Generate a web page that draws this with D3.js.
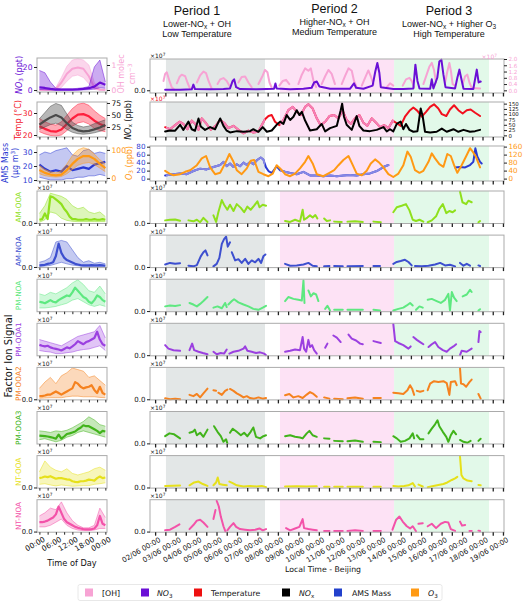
<!DOCTYPE html>
<html><head><meta charset="utf-8">
<script src="https://cdn.jsdelivr.net/npm/d3@7/dist/d3.min.js"></script>
<style>html,body{margin:0;padding:0;background:#fff;}svg{display:block}</style>
</head><body>
<svg id="chart" width="529" height="602"></svg>
<script>
// ================= DATA =================
const dayTickLabels = ["02/06 00:00","03/06 00:00","04/06 00:00","05/06 00:00","06/06 00:00","07/06 00:00","08/06 00:00","09/06 00:00","10/06 00:00","11/06 00:00","12/06 00:00","13/06 00:00","14/06 00:00","15/06 00:00","16/06 00:00","17/06 00:00","18/06 00:00","19/06 00:00"];
const hourTickLabels = ["00:00","06:00","12:00","18:00","00:00"];
const hours2 = [0,2,4,6,8,10,12,14,16,18,20,22,24];
const hours1 = [0,1,2,3,4,5,6,7,8,9,10,11,12,13,14,15,16,17,18,19,20,21,22,23,24];
// periods in days since 02/06 00:00
const periodStart = [0.53, 6.10, 11.68];
const periodEnd   = [5.37, 11.68, 16.32];
const periodTitle = ["Period 1","Period 2","Period 3"];
const periodLine1 = [["Lower-NO","x"," + OH"],["Higher-NO","x"," + OH"],["Lower-NO","x"," + Higher O","3"]];
const periodLine2 = ["Low Temperature","Medium Temperature","High Temperature"];

// ---- time series (t in days, value) ----
const no3_ts = [[0.49,2],[1.22,2],[1.79,3],[1.87,18],[1.95,4],[2.69,3],[3.34,4],[3.66,6],[3.79,30],[3.86,35],[3.96,10],[4.15,4],[4.97,3],[5.46,4],[5.81,5],[5.88,22],[5.94,6],[6.60,3],[7.25,5],[7.65,8],[7.77,25],[7.90,28],[8.03,12],[8.55,5],[9.53,5],[9.72,22],[9.82,8],[10.18,5],[10.63,15],[10.76,60],[10.86,87],[10.96,55],[11.03,10],[11.64,4],[12.13,4],[12.62,6],[12.72,82],[12.82,30],[12.92,6],[13.44,5],[13.52,35],[13.60,6],[13.79,40],[13.89,92],[13.99,98],[14.09,50],[14.19,10],[14.66,6],[14.77,40],[14.87,66],[14.97,35],[15.07,5],[15.55,4],[15.72,66],[15.81,25],[15.91,28]];
const oh_ts = [
 [[0.41,0.6],[0.49,1.05],[0.57,1.15],[0.70,0.6],[0.81,0.2],[0.93,0.05]],
 [[1.06,0.45],[1.19,0.85],[1.30,1.0],[1.47,0.9],[1.58,0.5],[1.71,0.1]],
 [[2.04,0.5],[2.20,0.95],[2.36,1.2],[2.49,1.1],[2.61,0.6],[2.77,0.1]],
 [[3.05,0.4],[3.18,0.7],[3.34,0.78],[3.50,0.6],[3.63,0.3]],
 [[4.07,0.5],[4.23,0.85],[4.40,0.88],[4.56,0.5],[4.72,0.2]],
 [[5.05,0.4],[5.26,0.95],[5.37,1.3],[5.49,1.15],[5.59,0.5],[5.70,0.15]],
 [[6.07,0.3],[6.24,0.6],[6.40,0.67],[6.56,0.4]],
 [[7.00,0.4],[7.17,1.0],[7.33,1.4],[7.49,1.25],[7.61,1.4],[7.74,0.6],[7.87,0.2]],
 [[8.14,0.4],[8.31,0.9],[8.47,1.3],[8.63,1.05],[8.79,0.4]],
 [[9.12,0.4],[9.28,0.9],[9.45,1.4],[9.61,1.25],[9.72,0.6],[9.85,0.2]],
 [[10.10,0.3],[10.26,0.8],[10.42,1.27],[10.54,0.9],[10.67,0.4]],
 [[11.32,0.2],[11.48,0.45],[11.64,0.3]],
 [[12.10,0.3],[12.26,0.7],[12.43,0.8],[12.54,0.6],[12.66,0.2]],
 [[13.11,0.4],[13.27,1.0],[13.40,1.5],[13.52,1.75],[13.63,1.3],[13.73,0.5]],
 [[14.17,0.5],[14.28,1.2],[14.38,1.75],[14.46,1.2],[14.54,0.4],[14.66,0.3]],
 [[15.03,0.4],[15.15,0.9],[15.26,1.0],[15.36,0.5],[15.47,0.15],[15.88,0.12]]
];
const temp_ts = [[0.49,21.5],[0.73,20],[0.98,23],[1.19,25.5],[1.38,24],[1.58,20],[1.79,26.3],[1.95,24],[2.12,19.6],[2.28,28],[2.49,24.4],[2.72,19.6],[2.98,23],[3.18,26.8],[3.37,24.8],[3.58,20.8],[3.83,22.5],[4.07,19.6],[4.32,17],[4.56,19],[4.80,17.6],[5.05,18.4],[5.21,23],[5.37,27.3],[5.54,29.7],[5.70,30.4],[5.86,25.5],[6.07,23],[6.27,26.8],[6.51,34],[6.73,36.4],[6.92,32.8],[7.12,30.4],[7.33,36.4],[7.49,38.3],[7.70,35.2],[7.90,28],[8.09,23],[8.31,25.5],[8.52,29.7],[8.75,30.4],[8.96,28],[9.17,33.5],[9.36,26.8],[9.56,24],[9.77,28],[9.98,30.4],[10.18,24.8],[10.37,22.5],[10.59,28],[10.80,24.8],[10.99,21.5],[11.19,23],[11.40,20.8],[11.61,26.3],[11.81,24.4],[12.00,22.5],[12.21,29.2],[12.43,33.5],[12.62,35.9],[12.82,33.5],[13.03,29.2],[13.24,32.8],[13.44,36.4],[13.63,38.3],[13.84,35.2],[14.01,31.1],[14.23,29.7],[14.41,34.5],[14.61,37.6],[14.82,34],[15.03,31.6],[15.23,34],[15.42,34.5],[15.64,32.1],[15.88,29.7]];
const nox_ts = [[0.49,18],[0.73,23],[0.98,22],[1.22,50],[1.38,26],[1.63,65],[1.79,29],[1.95,22],[2.12,80],[2.23,42],[2.44,26],[2.69,39],[2.93,29],[3.18,80],[3.34,45],[3.50,22],[3.66,14],[3.99,20],[4.32,17],[4.64,20],[4.80,29],[5.05,17],[5.26,39],[5.46,17],[5.70,23],[5.94,50],[6.11,65],[6.27,54],[6.43,96],[6.60,73],[6.76,88],[6.92,119],[7.05,96],[7.17,111],[7.33,70],[7.57,23],[7.90,29],[8.14,54],[8.31,19],[8.55,34],[8.88,45],[9.07,119],[9.14,150],[9.23,88],[9.36,50],[9.61,26],[9.85,91],[9.98,45],[10.18,23],[10.50,20],[10.83,26],[11.16,39],[11.32,19],[11.48,29],[11.64,19],[11.81,54],[12.00,65],[12.13,29],[12.26,54],[12.43,26],[12.62,17],[12.82,20],[12.98,127],[13.08,88],[13.19,17],[13.44,14],[13.76,17],[14.01,32],[14.25,17],[14.58,29],[14.82,17],[15.07,26],[15.39,17],[15.64,20],[15.88,26]];
const ams_ts = [
 [[0.49,8],[0.90,11],[1.22,13],[1.55,11],[1.87,19],[2.20,25],[2.52,23],[2.85,29],[3.18,34],[3.34,42],[3.50,31],[3.66,38],[3.83,29],[3.99,36],[4.15,31],[4.32,40],[4.48,34],[4.64,42],[4.80,36],[4.97,46],[5.16,53],[5.29,48],[5.42,28],[5.54,19],[5.70,14],[5.94,31],[6.11,21],[6.35,17],[6.60,14],[6.92,11],[7.25,17],[7.57,8],[7.90,8],[8.22,6],[8.55,8],[8.88,6],[9.20,8],[9.53,9],[9.85,8],[10.18,11],[10.50,13],[10.83,19],[11.16,29],[11.40,34]],
 [[14.66,28],[14.90,29],[15.15,28],[15.39,34],[15.55,42],[15.65,76],[15.75,55],[15.88,42],[15.96,38]]
];
const o3_ts = [[0.49,39],[0.70,25],[0.90,17],[1.22,22],[1.47,34],[1.71,42],[2.04,67],[2.28,101],[2.49,113],[2.69,56],[2.93,22],[3.18,29],[3.42,76],[3.63,123],[3.83,84],[3.99,42],[4.23,22],[4.48,51],[4.67,89],[4.84,93],[5.05,34],[5.29,22],[5.54,12],[5.75,25],[5.94,67],[6.11,51],[6.35,22],[6.60,12],[6.84,25],[7.08,51],[7.33,84],[7.49,113],[7.70,76],[7.90,22],[8.22,12],[8.52,29],[8.75,42],[8.96,67],[9.20,93],[9.45,113],[9.66,67],[9.85,25],[10.10,17],[10.34,39],[10.54,76],[10.75,96],[10.96,79],[11.16,56],[11.40,22],[11.64,8],[11.89,25],[12.13,67],[12.33,135],[12.49,109],[12.70,42],[12.92,29],[13.11,39],[13.36,84],[13.52,126],[13.68,101],[13.89,72],[14.09,59],[14.28,123],[14.45,113],[14.61,67],[14.77,29],[14.98,67],[15.23,118],[15.39,152],[15.52,135],[15.68,109],[15.88,56]];

// factor time series (x10^7, segments)
const amOOA_ts = [
 [[0.49,0.08],[0.73,0.10],[0.98,0.11],[1.22,0.07]],
 [[1.63,0.08],[1.87,0.05],[2.04,0.10],[2.20,0.02],[2.36,0.16],[2.56,0.03]],
 [[2.85,0.24],[2.98,0.03],[3.09,0.34],[3.26,0.73],[3.37,0.58],[3.53,0.42],[3.66,0.58],[3.83,0.38],[3.99,0.60],[4.19,0.48],[4.35,0.34],[4.51,0.52],[4.67,0.42],[4.84,0.55],[5.00,0.69],[5.10,0.50],[5.26,0.58],[5.42,0.55]],
 [[6.35,0.06],[6.60,0.03],[6.84,0.10],[7.08,0.04],[7.21,0.42],[7.28,0.10],[7.44,0.17],[7.57,0.24],[7.70,0.17],[7.83,0.25],[7.93,0.14]],
 [[8.26,0.14],[8.39,0.06],[8.55,0.08]],
 [[8.75,0.04],[9.12,0.03]],
 [[9.40,0.04],[9.77,0.05],[10.15,0.03]],
 [[10.67,0.04],[11.03,0.02]],
 [[11.64,0.34],[11.81,0.50],[12.05,0.55],[12.26,0.60],[12.43,0.40],[12.59,0.10],[12.75,0.06],[12.92,0.10],[13.11,0.04]],
 [[13.32,0.02],[13.52,0.08],[13.73,0.21],[13.89,0.45],[14.06,0.60],[14.23,0.31],[14.38,0.38],[14.54,0.34],[14.66,0.40]],
 [[14.90,1.00],[15.02,0.66],[15.20,0.60],[15.31,0.71],[15.47,0.66]],
 [[15.80,0.02],[15.88,0.06]]
];
const amNOA_ts = [
 [[0.49,0.08],[0.73,0.13],[0.98,0.10],[1.22,0.12]],
 [[1.63,0.04],[1.87,0.02],[2.04,0.06],[2.23,0.34],[2.36,0.47],[2.46,0.53],[2.56,0.37]],
 [[2.85,0.02],[3.01,0.10],[3.14,0.29],[3.26,0.74],[3.37,0.89],[3.47,0.97],[3.55,0.65],[3.66,0.79]],
 [[3.75,0.47],[3.91,0.21],[4.07,0.25],[4.23,0.13],[4.40,0.26],[4.56,0.10],[4.72,0.21],[4.89,0.15],[5.05,0.26],[5.18,0.13],[5.29,0.34],[5.39,0.40]],
 [[6.35,0.10],[6.60,0.04],[6.92,0.05],[7.25,0.08],[7.49,0.13],[7.70,0.04],[7.90,0.02]],
 [[8.26,0.02],[8.52,0.03]],
 [[8.75,0.03],[9.17,0.02]],
 [[9.40,0.02],[10.15,0.03]],
 [[10.67,0.03],[10.99,0.03]],
 [[11.64,0.10],[11.81,0.16],[12.00,0.19],[12.21,0.23],[12.38,0.16],[12.54,0.05]],
 [[12.70,0.03],[13.03,0.02],[13.36,0.04],[13.68,0.08],[13.93,0.13],[14.17,0.05],[14.41,0.07],[14.66,0.02]],
 [[14.90,0.13],[15.07,0.04],[15.23,0.10],[15.39,0.04]],
 [[15.80,0.05],[15.88,0.03]]
];
const pmNOA_ts = [
 [[0.49,0.15],[0.73,0.18],[0.98,0.16],[1.22,0.19]],
 [[1.68,0.26],[1.87,0.21],[2.04,0.15],[2.20,0.23],[2.36,0.32],[2.56,0.45]],
 [[2.85,0.11],[3.05,0.15],[3.26,0.09],[3.42,0.26],[3.50,0.13]],
 [[3.58,0.21],[3.75,0.32],[3.86,0.38],[4.07,0.28],[4.32,0.21],[4.56,0.15],[4.80,0.07],[5.05,0.04],[5.26,0.11],[5.42,0.17]],
 [[6.35,0.32],[6.51,0.45],[6.76,0.39],[7.00,0.36],[7.17,0.34],[7.25,0.98],[7.30,0.26]],
 [[7.49,0.66],[7.61,0.47],[7.74,0.57],[7.87,0.53],[7.98,0.32]],
 [[8.31,0.07],[8.42,0.17],[8.55,0.02]],
 [[8.75,0.04],[9.17,0.04]],
 [[9.40,0.04],[10.15,0.04]],
 [[10.67,0.04],[10.99,0.02]],
 [[11.64,0.02],[11.89,0.07],[12.13,0.11],[12.30,0.18],[12.46,0.26],[12.59,0.18]],
 [[12.75,0.04],[12.92,0.15],[13.08,0.11]],
 [[13.32,0.36],[13.52,0.39],[13.76,0.32],[13.96,0.26],[14.17,0.36],[14.33,0.55],[14.41,0.02],[14.50,0.61],[14.61,0.43],[14.74,0.32]],
 [[15.03,0.47],[15.23,0.53],[15.39,0.68],[15.47,0.61]],
 [[15.80,0.02],[15.88,0.06]]
];
const pmOOA1_ts = [
 [[0.49,0.32],[0.65,0.21],[0.90,0.16],[1.22,0.14]],
 [[1.68,0.16],[1.81,0.37],[1.91,0.16],[2.12,0.11],[2.33,0.07],[2.56,0.03]],
 [[2.85,0.11],[3.01,0.03],[3.21,0.07],[3.37,0.05],[3.50,0.18]],
 [[3.63,0.05],[3.83,0.11],[4.07,0.14],[4.32,0.21],[4.40,0.28],[4.51,0.14],[4.72,0.11],[4.93,0.07],[5.13,0.09],[5.33,0.05],[5.42,0.00]],
 [[6.35,0.11],[6.60,0.14],[6.84,0.18],[7.08,0.16],[7.21,0.58],[7.28,0.21],[7.38,0.11],[7.49,0.49],[7.57,0.26],[7.67,0.32],[7.77,0.16],[7.90,0.05]],
 [[8.31,0.24],[8.42,0.37]],
 [[8.71,0.63],[8.88,0.56],[9.07,0.42]],
 [[9.45,0.66],[9.61,0.53],[9.82,0.47],[10.02,0.37],[10.15,0.35]],
 [[10.67,0.45],[11.03,0.39]],
 [[11.64,1.00],[11.73,0.45],[11.89,0.39],[12.13,0.32],[12.38,0.21],[12.49,0.28]],
 [[12.62,0.58],[12.79,0.49],[12.95,0.42],[13.11,0.35]],
 [[13.36,0.26],[13.52,0.35],[13.68,0.42],[13.84,0.26],[14.06,0.16],[14.25,0.11],[14.41,0.21],[14.58,0.28],[14.71,0.35]],
 [[14.90,0.00],[14.98,0.14],[15.23,0.11],[15.47,0.21]],
 [[15.80,0.42],[15.85,0.77],[15.91,0.74]]
];
const pmOOA2_ts = [
 [[0.49,0.03],[0.73,0.00],[0.98,0.02],[1.22,0.00]],
 [[1.68,0.14],[1.87,0.10],[2.04,0.17],[2.20,0.06],[2.36,0.19],[2.56,0.34]],
 [[2.85,0.29],[2.98,0.27]],
 [[3.09,0.21],[3.26,0.14],[3.42,0.27],[3.53,0.31]],
 [[3.66,0.33],[3.83,0.27],[3.99,0.19],[4.15,0.13],[4.32,0.06],[4.48,0.10],[4.64,0.04],[4.84,0.02],[5.05,0.06],[5.26,0.02],[5.42,0.04]],
 [[6.35,0.13],[6.56,0.17],[6.76,0.06],[7.00,0.10],[7.21,0.04],[7.41,0.15],[7.57,0.23],[7.74,0.17],[7.90,0.08]],
 [[8.26,0.06],[8.52,0.02]],
 [[8.75,0.02],[9.17,0.00]],
 [[9.40,0.03],[9.77,0.06],[10.15,0.02]],
 [[10.67,0.04],[11.03,0.04]],
 [[11.64,0.21],[11.89,0.19],[12.13,0.17],[12.33,0.29],[12.46,0.45],[12.56,0.34],[12.66,0.14]],
 [[12.79,0.27],[12.95,0.24],[13.11,0.27]],
 [[13.32,0.29],[13.44,0.50],[13.63,0.58],[13.84,0.55],[14.09,0.58],[14.25,0.52],[14.38,0.14],[14.45,0.55],[14.66,0.58],[14.74,0.45]],
 [[14.90,1.00],[14.95,0.50],[15.07,0.48],[15.20,0.40],[15.36,0.55],[15.47,0.63]],
 [[15.80,0.17],[15.91,0.02]]
];
const pmOOA3_ts = [
 [[0.49,0.23],[0.70,0.32],[0.93,0.29],[1.22,0.16]],
 [[1.68,0.34],[1.84,0.37],[1.94,0.44],[2.04,0.26],[2.20,0.34],[2.36,0.21],[2.56,0.44]],
 [[2.88,0.55],[3.05,0.37],[3.21,0.23],[3.34,0.05],[3.47,0.13],[3.53,0.00]],
 [[3.66,0.34],[3.79,0.47],[3.99,0.37],[4.19,0.26],[4.35,0.34],[4.51,0.23],[4.67,0.37],[4.80,0.51],[4.93,0.21],[5.13,0.16],[5.29,0.23],[5.42,0.26]],
 [[6.35,0.23],[6.60,0.26],[6.84,0.21],[7.08,0.19],[7.21,0.16],[7.41,0.32],[7.54,0.40],[7.70,0.26],[7.90,0.21]],
 [[8.26,0.16],[8.52,0.15]],
 [[8.75,0.08],[9.17,0.07]],
 [[9.40,0.07],[9.77,0.09],[10.15,0.05]],
 [[10.67,0.05],[11.03,0.04]],
 [[11.64,0.23],[11.81,0.16],[12.00,0.05],[12.21,0.08],[12.43,0.16],[12.59,0.32],[12.66,0.16]],
 [[12.79,0.26],[12.95,0.13],[13.11,0.13]],
 [[13.36,0.32],[13.52,0.47],[13.68,0.61],[13.80,0.74],[13.89,0.55],[14.06,0.37],[14.23,0.21],[14.33,0.05],[14.45,0.26],[14.58,0.40],[14.71,0.29]],
 [[14.90,0.11],[15.07,0.05],[15.26,0.02],[15.42,0.08]],
 [[15.80,0.08],[15.91,0.15]]
];
const ntOOA_ts = [
 [[0.49,0.05],[1.22,0.06]],
 [[1.68,0.07],[1.91,0.16],[2.12,0.19],[2.33,0.11],[2.56,0.05]],
 [[2.85,0.07],[2.98,0.16],[3.06,0.32],[3.14,0.11],[3.31,0.09],[3.50,0.07]],
 [[3.63,0.19],[3.79,0.14],[3.99,0.07],[4.32,0.03],[4.64,0.05],[4.97,0.03],[5.21,0.05],[5.42,0.01]],
 [[6.35,0.03],[6.92,0.04],[7.41,0.03],[7.90,0.04]],
 [[8.26,0.02],[8.52,0.02]],
 [[8.75,0.02],[9.17,0.02]],
 [[9.40,0.02],[10.15,0.02]],
 [[10.67,0.02],[11.03,0.02]],
 [[11.64,0.05],[11.89,0.03],[12.17,0.05],[12.38,0.07],[12.59,0.14],[12.70,0.03]],
 [[12.87,0.09],[13.08,0.03]],
 [[13.32,0.01],[13.60,0.05],[13.84,0.08],[14.09,0.11],[14.28,0.16],[14.50,0.24],[14.66,0.29],[14.77,0.34]],
 [[14.90,0.99],[14.97,0.40],[15.07,0.29],[15.26,0.22],[15.47,0.20]],
 [[15.80,0.08],[15.91,0.07]]
];
const ntNOA_ts = [
 [[0.49,0.04],[0.73,0.06],[0.98,0.15],[1.19,0.23]],
 [[1.68,0.08],[1.87,0.21],[2.04,0.35],[2.20,0.38],[2.36,0.29],[2.56,0.15]],
 [[2.85,0.40],[2.95,0.69]],
 [[3.01,0.98],[3.11,0.81],[3.21,0.48],[3.34,0.17],[3.44,0.00]],
 [[3.53,0.04],[3.66,0.15],[3.83,0.27],[3.96,0.15],[4.15,0.08],[4.40,0.06],[4.64,0.04],[4.89,0.06],[5.10,0.10],[5.26,0.04],[5.42,0.08]],
 [[6.40,0.11],[6.60,0.04],[6.84,0.10],[7.05,0.15],[7.21,0.40],[7.28,0.11],[7.49,0.08],[7.70,0.06],[7.90,0.04]],
 [[8.26,0.02],[8.52,0.02]],
 [[8.75,0.02],[9.17,0.02]],
 [[9.40,0.02],[9.77,0.04],[10.15,0.02]],
 [[10.67,0.02],[11.03,0.02]],
 [[11.60,0.06],[11.78,0.38],[11.94,0.48],[12.10,0.32],[12.30,0.17],[12.46,0.10],[12.59,0.17],[12.75,0.01]],
 [[12.87,0.25],[13.08,0.27]],
 [[13.32,0.17],[13.52,0.25],[13.73,0.11],[13.96,0.25],[14.17,0.31],[14.33,0.29],[14.45,0.08],[14.66,0.02]],
 [[14.90,0.32],[15.00,0.19],[15.15,0.21]],
 [[15.36,0.02],[15.47,0.02]],
 [[15.80,0.03],[15.88,0.02]]
];

// ---- diurnal profiles (left column) ----
const no3_med = [2.3,1.8,1.0,0.4,0.3,0.3,0.4,0.6,1.0,1.6,3.0,6.5,4.5];
const no3_hi  = [17,15,7,1.5,1,1,1,1.5,2,3,20,26,7];
const no3_lo  = [0.5,0.3,0.1,0,0,0,0,0,0.1,0.3,0.8,2,1.5];
const oh_med  = [0,0,0,0.04,0.3,0.65,0.85,0.9,0.85,0.55,0.1,0.01,0];
const oh_hi   = [0.02,0.02,0.02,0.1,0.5,0.95,1.2,1.25,1.2,1.0,0.3,0.05,0.02];
const oh_lo   = [0,0,0,0,0.1,0.35,0.55,0.6,0.5,0.25,0.02,0,0];
const temp_med = [24,22.8,21.8,21.5,22.5,25,27.5,29.3,29.5,28.5,26.5,25,24];
const temp_hi  = [27.5,26,25,24.5,26,29,32,34,34.5,33.5,31,29,27.5];
const temp_lo  = [21.5,20.5,19.8,19.5,20,22,24,25.5,26,25,23,22,21.5];
const nox_med = [30,38,45,50,45,33,23,18,16,17,20,24,29];
const nox_hi  = [42,55,68,74,70,52,35,28,25,27,32,36,40];
const nox_lo  = [20,25,30,33,28,20,14,11,10,11,13,16,20];
const ams_med = [21,18,16,17,16,20,17,18,19,18,21,22,23];
const ams_hi  = [28,30,29,31,32,33,28,27,31,32,29,30,29];
const ams_lo  = [12,11,10,10,10,11,11,12,12,13,13,14,13];
const o3_med = [28,18,12,9,12,28,50,68,78,78,68,50,35];
const o3_hi  = [45,30,22,18,25,50,80,100,108,102,85,65,50];
const o3_lo  = [15,8,5,3,5,15,30,45,52,55,48,35,22];

const amOOA_med = [0.10,0.12,0.30,0.12,0.85,0.82,0.75,0.68,0.60,0.45,0.35,0.20,0.12,0.12,0.10,0.10,0.10,0.12,0.10,0.10,0.12,0.10,0.10,0.12,0.10];
const amOOA_hi  = [0.30,0.55,0.95,0.90,0.85,0.75,0.55,0.45,0.50,0.35,0.30,0.35,0.20];
const amOOA_lo  = [0.02,0.10,0.35,0.30,0.15,0.08,0.05,0.04,0.04,0.04,0.04,0.04,0.04];
const amNOA_med = [0.05,0.06,0.07,0.10,0.12,0.15,0.35,0.75,0.45,0.30,0.22,0.18,0.14,0.10,0.08,0.06,0.05,0.05,0.05,0.06,0.05,0.05,0.06,0.05,0.04];
const amNOA_hi  = [0.15,0.20,0.30,0.80,0.85,0.80,0.55,0.30,0.15,0.20,0.12,0.15,0.10];
const amNOA_lo  = [0.02,0.03,0.05,0.10,0.15,0.10,0.06,0.04,0.02,0.02,0.02,0.02,0.02];
const pmNOA_med = [0.30,0.28,0.25,0.30,0.35,0.30,0.28,0.35,0.40,0.45,0.50,0.48,0.60,0.75,0.65,0.55,0.45,0.40,0.30,0.25,0.35,0.50,0.45,0.35,0.30];
const pmNOA_hi  = [0.55,0.50,0.60,0.55,0.65,0.75,0.90,1.00,0.85,0.65,0.60,0.80,0.55];
const pmNOA_lo  = [0.10,0.10,0.12,0.15,0.20,0.25,0.35,0.40,0.30,0.20,0.15,0.20,0.15];
const pmOOA1_med = [0.33,0.30,0.28,0.30,0.25,0.22,0.20,0.18,0.15,0.20,0.25,0.22,0.28,0.35,0.45,0.40,0.35,0.42,0.45,0.50,0.55,0.75,0.50,0.35,0.30];
const pmOOA1_hi  = [0.50,0.45,0.40,0.35,0.30,0.40,0.50,0.60,0.65,0.70,0.75,0.95,0.55];
const pmOOA1_lo  = [0.15,0.12,0.10,0.05,0.05,0.08,0.10,0.15,0.18,0.20,0.25,0.30,0.15];
const pmOOA2_med = [0.10,0.10,0.12,0.15,0.15,0.20,0.25,0.20,0.15,0.20,0.25,0.30,0.35,0.55,0.50,0.40,0.35,0.38,0.40,0.45,0.30,0.20,0.40,0.20,0.15];
const pmOOA2_hi  = [0.35,0.55,0.70,0.50,0.75,0.85,1.00,0.95,0.90,0.70,0.75,0.60,0.45];
const pmOOA2_lo  = [0.03,0.04,0.05,0.05,0.05,0.08,0.10,0.10,0.08,0.08,0.08,0.06,0.05];
const pmOOA3_med = [0.25,0.24,0.23,0.22,0.20,0.18,0.15,0.28,0.15,0.22,0.30,0.32,0.35,0.38,0.45,0.50,0.58,0.55,0.55,0.50,0.45,0.40,0.33,0.40,0.38];
const pmOOA3_hi  = [0.40,0.38,0.35,0.40,0.38,0.42,0.50,0.60,0.70,0.85,0.75,0.60,0.55];
const pmOOA3_lo  = [0.12,0.15,0.10,0.05,0.10,0.20,0.25,0.35,0.40,0.35,0.30,0.25,0.20];
const ntOOA_med = [0.30,0.32,0.35,0.33,0.36,0.32,0.28,0.30,0.30,0.28,0.26,0.25,0.20,0.18,0.17,0.20,0.20,0.22,0.25,0.24,0.22,0.30,0.35,0.30,0.32];
const ntOOA_hi  = [0.50,0.85,0.65,0.55,0.50,0.60,0.45,0.40,0.45,0.50,0.60,0.65,0.55];
const ntOOA_lo  = [0.10,0.12,0.08,0.05,0.08,0.06,0.04,0.05,0.06,0.06,0.10,0.12,0.15];
const ntNOA_med = [0.30,0.30,0.32,0.35,0.40,0.45,0.55,0.80,0.60,0.40,0.30,0.25,0.20,0.15,0.12,0.10,0.08,0.07,0.07,0.08,0.10,0.20,0.50,0.25,0.20];
const ntNOA_hi  = [0.50,0.60,0.75,0.70,0.95,0.60,0.35,0.20,0.12,0.12,0.20,0.75,0.45];
const ntNOA_lo  = [0.15,0.15,0.20,0.30,0.40,0.20,0.10,0.05,0.03,0.03,0.05,0.10,0.10];

const factorNames = ["AM-OOA","AM-NOA","PM-NOA","PM-OOA1","PM-OOA2","PM-OOA3","NT-OOA","NT-NOA"];
const factorTS  = [amOOA_ts, amNOA_ts, pmNOA_ts, pmOOA1_ts, pmOOA2_ts, pmOOA3_ts, ntOOA_ts, ntNOA_ts];
const factorMed = [amOOA_med, amNOA_med, pmNOA_med, pmOOA1_med, pmOOA2_med, pmOOA3_med, ntOOA_med, ntNOA_med];
const factorHi  = [amOOA_hi, amNOA_hi, pmNOA_hi, pmOOA1_hi, pmOOA2_hi, pmOOA3_hi, ntOOA_hi, ntNOA_hi];
const factorLo  = [amOOA_lo, amNOA_lo, pmNOA_lo, pmOOA1_lo, pmOOA2_lo, pmOOA3_lo, ntOOA_lo, ntNOA_lo];
const showZeroLeft = [true,true,false,false,true,false,true,true];
const legendLabels = [[["[OH]",""]],[["NO","i"],["3","sub"]],[["Temperature",""]],[["NO","i"],["x","sub"]],[["AMS Mass",""]],[["O","i"],["3","sub"]]];

// ================= STYLE =================
const C = {oh:"#f7a3d4", no3:"#6a0fd6", temp:"#f2101e", tempP:"#f57fb8", nox:"#000000", ams:"#2a3ad2", amsP:"#8687e4", o3:"#ff9914", frame:"#ababab"};
const factorColors = ["#8fe01c","#3d4fcf","#5ee880","#9b40e0","#f5821f","#41b31b","#e6e01a","#f352a9"];
const periodColors = ["#e3e7e7","#fde2f5","#e2f9e9"];
const legendColors = [C.oh, C.no3, "#ee1010", "#000", "#2240cc", "#ff9a14"];
const FS = "DejaVu Sans, sans-serif";
const FT = "Liberation Sans, Arial, sans-serif";

// ================= DRAW =================
const svg = d3.select("#chart");
svg.append("rect").attr("width",529).attr("height",602).attr("fill","#fff");

const xR = d3.scaleLinear().domain([-0.25, 17.05]).range([150, 504]);
const xL = d3.scaleLinear().domain([-0.87, 24.6]).range([37, 107]);
const dayTicks = d3.range(0, 17.01, 0.5);
const hourTicks = d3.range(0, 24.01, 3);

function addRich(t, parts){
  parts.forEach(p=>{
    const s = t.append("tspan").text(p[0]);
    if(p[1]==="sub"){ s.attr("baseline-shift","-28%").attr("font-size","72%"); }
    if(p[1]==="sup"){ s.attr("baseline-shift","40%").attr("font-size","72%"); }
    if(p[1]==="i"){ s.attr("font-style","italic"); }
  });
  return t;
}
function vlabel(x,y,parts,color,fs){
  const t = svg.append("text").attr("transform",`translate(${x},${y}) rotate(-90)`)
    .attr("text-anchor","middle").attr("dominant-baseline","central")
    .attr("fill",color).attr("font-size",fs).attr("font-family",FS);
  return addRich(t, parts);
}
function sci(x,y,color,anchor){
  const t = svg.append("text").attr("x",x).attr("y",y).attr("fill",color)
    .attr("font-size",6).attr("font-family",FS).attr("text-anchor",anchor||"start");
  addRich(t, [["×10",""],["7","sup"]]);
}
function styleAxis(g, color, fs){
  g.attr("font-size",fs).attr("font-family",FS);
  g.select(".domain").remove();
  g.selectAll(".tick line").attr("stroke","#222").attr("stroke-width",1);
  g.selectAll(".tick text").attr("fill",color);
}
function frame(x0,x1,y0,y1){
  svg.append("rect").attr("x",x0).attr("y",y0).attr("width",x1-x0).attr("height",y1-y0)
    .attr("fill","none").attr("stroke",C.frame).attr("stroke-width",1);
}
function shading(y0,y1){
  const g = svg.append("g");
  periodStart.forEach((s,i)=>{
    g.append("rect").attr("x",xR(s)).attr("y",y0).attr("width",xR(periodEnd[i])-xR(s)).attr("height",y1-y0).attr("fill",periodColors[i]);
  });
}
function drawSegs(segs, y, color, w, clip){
  const line = d3.line().x(d=>xR(d[0])).y(d=>y(d[1]));
  const g = svg.append("g");
  if(clip) g.attr("clip-path","url(#"+clip+")");
  segs.forEach(s=>{
    g.append("path").attr("d",line(s)).attr("fill","none").attr("stroke",color)
      .attr("stroke-width",w).attr("stroke-linejoin","round").attr("stroke-linecap","round");
  });
}
function bottomTicks(y1, labels){
  const ax = d3.axisBottom(xR).tickValues(dayTicks).tickSize(3.5).tickPadding(2)
    .tickFormat(d => (labels && Math.abs(d-Math.round(d))<1e-6) ? dayTickLabels[Math.round(d)] : "");
  const g = svg.append("g").attr("transform",`translate(0,${y1})`).call(ax);
  styleAxis(g,"#111",7.1);
  g.selectAll(".tick line").attr("stroke-width",1.3);
  if(labels){
    g.selectAll(".tick text").attr("text-anchor","end").attr("x",0).attr("y",0).attr("dy","0.72em")
      .attr("transform","translate(3,4.5) rotate(-30)");
  }
}
function leftBottomTicks(y1, labels){
  const ax = d3.axisBottom(xL).tickValues(hourTicks).tickSize(2.5)
    .tickFormat(d => (labels && d%6===0) ? hourTickLabels[d/6] : "");
  const g = svg.append("g").attr("transform",`translate(0,${y1})`).call(ax);
  styleAxis(g,"#111",7.4);
  if(labels){
    g.selectAll(".tick text").attr("text-anchor","end").attr("x",0).attr("y",0).attr("dy","0.72em")
      .attr("transform","translate(3,4) rotate(-30)");
  }
}
function leftAxis(x, y, vals, fmt, color, fs){
  const g = svg.append("g").attr("transform",`translate(${x},0)`).call(d3.axisLeft(y).tickValues(vals).tickSize(3).tickPadding(1.5).tickFormat(fmt));
  styleAxis(g,color,fs||7.6);
}
function rightAxis(x, y, vals, fmt, color, fs){
  const g = svg.append("g").attr("transform",`translate(${x},0)`).call(d3.axisRight(y).tickValues(vals).tickSize(3).tickPadding(1.5).tickFormat(fmt));
  styleAxis(g,color,fs||7.6);
}
function bandL(hrs, lo, hi, med, hrsMed, y, color, alpha, w){
  const g = svg.append("g");
  const area = d3.area().x((d,i)=>xL(hrs[i])).y0((d,i)=>y(lo[i])).y1((d,i)=>y(hi[i]));
  g.append("path").attr("d",area(hrs)).attr("fill",color).attr("fill-opacity",alpha);
  const ln = arr => d3.line().x((d,i)=>xL(hrs[i])).y((d,i)=>y(arr[i]))(hrs);
  g.append("path").attr("d",ln(hi)).attr("fill","none").attr("stroke",color).attr("stroke-opacity",0.7).attr("stroke-width",0.7);
  g.append("path").attr("d",ln(lo)).attr("fill","none").attr("stroke",color).attr("stroke-opacity",0.7).attr("stroke-width",0.7);
  const lm = d3.line().x((d,i)=>xL(hrsMed[i])).y((d,i)=>y(med[i]));
  g.append("path").attr("d",lm(hrsMed)).attr("fill","none").attr("stroke",color).attr("stroke-width",w||2.2).attr("stroke-linejoin","round");
}

// clip path for periods 1-2 overlay colors
const defs = svg.append("defs");
const cp = defs.append("clipPath").attr("id","p12");
[0,1].forEach(i=> cp.append("rect").attr("x",xR(periodStart[i])).attr("y",0).attr("width",xR(periodEnd[i])-xR(periodStart[i])).attr("height",602));

// ---------- Titles ----------
const titleX = [197, 334.5, 449];
const titleY = [15, 13, 15];
periodTitle.forEach((t,i)=>{
  svg.append("text").attr("x",titleX[i]).attr("y",titleY[i]).attr("text-anchor","middle").attr("font-family",FT).attr("font-size",12.5).attr("fill","#111").text(t);
  const l1 = svg.append("text").attr("x",titleX[i]).attr("y",titleY[i]+12).attr("text-anchor","middle").attr("font-family",FT).attr("font-size",9).attr("fill","#111");
  const p = periodLine1[i];
  addRich(l1, p.map((s,k)=>[s, k%2===1 ? "sub" : ""]));
  svg.append("text").attr("x",titleX[i]).attr("y",titleY[i]+22).attr("text-anchor","middle").attr("font-family",FT).attr("font-size",9).attr("fill","#111").text(periodLine2[i]);
});

// ---------- Right top panels ----------
// Panel 1: NO3 + OH
{
  const y0=59,y1=93;
  shading(y0,y1);
  const yN = d3.scaleLinear().domain([-8.7,100]).range([y1,y0]);
  const yO = d3.scaleLinear().domain([-0.17,2.0]).range([y1,y0]);
  drawSegs(oh_ts, yO, C.oh, 2);
  drawSegs([no3_ts], yN, C.no3, 2);
  frame(150,504,y0,y1);
  leftAxis(150, yN, [0], d=>"0.0", "#111", 7);
  rightAxis(504, yO, [0,0.4,0.8,1.2,1.6,2.0], d3.format(".1f"), C.oh, 5.6);
  sci(150, 57.5, "#111");
  sci(497, 58.5, C.oh, "end");
  bottomTicks(y1,false);
}
// Panel 2: Temperature + NOx
{
  const y0=102,y1=137;
  shading(y0,y1);
  const yT = d3.scaleLinear().domain([14.3,40]).range([y1,y0]);
  const yN = d3.scaleLinear().domain([-7.7,157.7]).range([y1,y0]);
  drawSegs([temp_ts], yT, C.temp, 2);
  drawSegs([temp_ts], yT, C.tempP, 2, "p12");
  drawSegs([nox_ts], yN, C.nox, 2);
  frame(150,504,y0,y1);
  rightAxis(504, yN, [0,25,50,75,100,125,150], d3.format("d"), "#111", 5.4);
  sci(150, 100.5, C.temp);
  bottomTicks(y1,false);
}
// Panel 3: AMS + O3
{
  const y0=146,y1=181;
  shading(y0,y1);
  const yA = d3.scaleLinear().domain([-6,81.7]).range([y1,y0]);
  const yO = d3.scaleLinear().domain([-12,163]).range([y1,y0]);
  drawSegs(ams_ts, yA, C.ams, 2);
  drawSegs(ams_ts, yA, C.amsP, 2, "p12");
  drawSegs([o3_ts], yO, C.o3, 2);
  frame(150,504,y0,y1);
  leftAxis(150, yA, [0,20,40,60,80], d3.format("d"), C.ams, 7.2);
  rightAxis(504, yO, [0,40,80,120,160], d3.format("d"), C.o3, 7.2);
  bottomTicks(y1,false);
}

// ---------- Left top panels ----------
{
  const y0=58,y1=92;
  const yN = d3.scaleLinear().domain([-1.7,27.8]).range([y1,y0]);
  const yO = d3.scaleLinear().domain([-0.08,1.28]).range([y1,y0]);
  bandL(hours2, oh_lo, oh_hi, oh_med, hours2, yO, C.oh, 0.45, 2);
  bandL(hours2, no3_lo, no3_hi, no3_med, hours2, yN, C.no3, 0.35, 2.2);
  frame(37,107,y0,y1);
  leftAxis(37, yN, [0,20], d3.format("d"), C.no3);
  rightAxis(107, yO, [0,1], d3.format("d"), C.oh);
  leftBottomTicks(y1,false);
  vlabel(19, 75, [["NO","i"],["3","sub"],[" (ppt)",""]], C.no3, 8);
  vlabel(121, 74, [["OH molec",""]], C.oh, 8);
  vlabel(132, 74, [["cm",""],["−3","sup"]], C.oh, 8);
}
{
  const y0=102,y1=137;
  const yT = d3.scaleLinear().domain([19.1,35]).range([y1,y0]);
  const yN = d3.scaleLinear().domain([4.2,77]).range([y1,y0]);
  bandL(hours2, temp_lo, temp_hi, temp_med, hours2, yT, "#ff1f3d", 0.38, 2.2);
  bandL(hours2, nox_lo, nox_hi, nox_med, hours2, yN, "#4a4a4a", 0.4, 2.2);
  frame(37,107,y0,y1);
  leftAxis(37, yT, [20,30], d3.format("d"), C.temp);
  rightAxis(107, yN, [25,50,75], d3.format("d"), "#111");
  leftBottomTicks(y1,false);
  vlabel(18, 120, [["Temp (°C)",""]], C.temp, 8);
  vlabel(128, 120, [["NO","i"],["x","sub"],[" (ppb)",""]], "#111", 8);
}
{
  const y0=146,y1=181;
  const yA = d3.scaleLinear().domain([9.3,34.3]).range([y1,y0]);
  const yO = d3.scaleLinear().domain([-11,114]).range([y1,y0]);
  bandL(hours2, ams_lo, ams_hi, ams_med, hours2, yA, C.ams, 0.28, 2.2);
  bandL(hours2, o3_lo, o3_hi, o3_med, hours2, yO, C.o3, 0.35, 2.2);
  frame(37,107,y0,y1);
  leftAxis(37, yA, [10,20,30], d3.format("d"), C.ams);
  rightAxis(107, yO, [0,100], d3.format("d"), C.o3);
  leftBottomTicks(y1,false);
  vlabel(5, 163, [["AMS Mass",""]], C.ams, 8);
  vlabel(15, 163, [["(μg m",""],["3","sup"],[")",""]], C.ams, 8);
  vlabel(129, 163, [["O","i"],["3","sub"],[" (ppb)",""]], C.o3, 8);
}

// ---------- Factor panels ----------
factorNames.forEach((name,i)=>{
  const y0 = 191 + i*44.1, y1 = y0 + 32.5;
  const y = d3.scaleLinear().domain([-0.02,1.02]).range([y1,y0]);
  // right
  shading(y0,y1);
  drawSegs(factorTS[i], y, factorColors[i], 2);
  frame(150,504,y0,y1);
  leftAxis(150, y, [0], d=>"0.0", "#111", 7);
  sci(150, y0-1.5, "#111");
  bottomTicks(y1, i===7);
  // left
  bandL(hours2, factorLo[i], factorHi[i], factorMed[i], hours1, y, factorColors[i], 0.3, 2.2);
  frame(37,107,y0,y1);
  if(showZeroLeft[i]) leftAxis(37, y, [0], d=>"0.0", "#111", 6.8);
  sci(37, y0-1.5, "#111");
  leftBottomTicks(y1, i===7);
  vlabel(17.5, (y0+y1)/2, [[name,""]], factorColors[i], 7.3);
});

vlabel(8, 356, [["Factor Ion Signal",""]], "#111", 10);

// axis titles
svg.append("text").attr("x",72).attr("y",566).attr("text-anchor","middle").attr("font-family",FS).attr("font-size",8.2).attr("fill","#111").text("Time of Day");
svg.append("text").attr("x",323).attr("y",572).attr("text-anchor","middle").attr("font-family",FS).attr("font-size",7.8).attr("fill","#111").text("Local Time - Beijing");

// ---------- Legend ----------
{
  svg.append("rect").attr("x",78).attr("y",584.5).attr("width",364).attr("height",16).attr("rx",2)
    .attr("fill","#fff").attr("stroke","#e2e2e2").attr("stroke-width",0.8);
  const sqX = [85,141,194,282,334,411];
  const txX = [102,157,211,299,352,428];
  legendLabels.forEach((lab,i)=>{
    svg.append("rect").attr("x",sqX[i]).attr("y",588.5).attr("width",8).attr("height",8).attr("fill",legendColors[i]);
    const t = svg.append("text").attr("x",txX[i]).attr("y",595.5).attr("font-family",FS).attr("font-size",7.8).attr("fill","#111");
    addRich(t, lab);
  });
}
</script>
</body></html>
